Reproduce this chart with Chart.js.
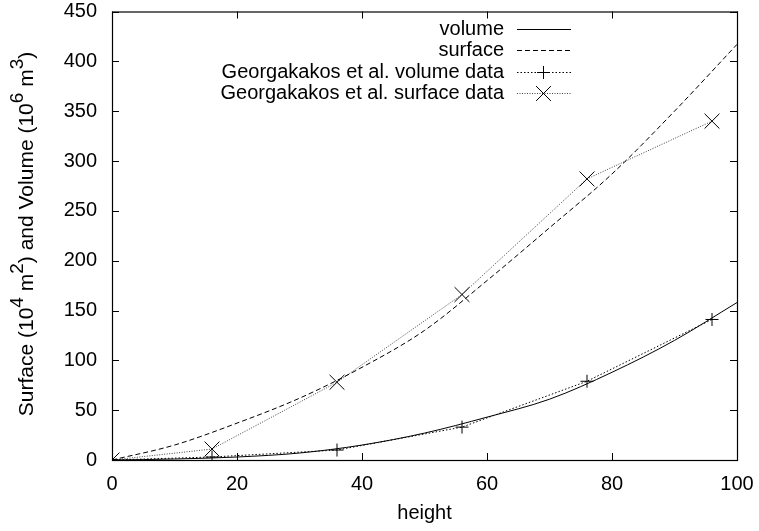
<!DOCTYPE html>
<html>
<head>
<meta charset="utf-8">
<script src="https://cdn.jsdelivr.net/npm/chart.js@4/dist/chart.umd.min.js"></script>
<style>
  html, body { margin: 0; padding: 0; background: #fff; }
  #wrap { width: 759px; height: 531px; }
</style>
</head>
<body>
<div id="wrap"><canvas id="myChart" width="759" height="531"></canvas></div>
<script>
// measured points (Georgakakos et al.)
const heights = [0, 16, 36, 56, 76, 96];
const volumeData = [0, 3, 10, 33, 79, 141];
const surfaceData = [0, 11, 78, 166, 282, 340];

// fitted curves
const curveHeights = [0, 10, 20, 30, 40, 50, 60, 70, 80, 90, 100];
const volumeCurve = [0, 1, 3, 7, 15, 27, 43, 61, 88, 120, 158];
const surfaceCurve = [0, 15, 37, 62, 93, 130, 180, 233, 287, 350, 417];

const xTicks = [0, 20, 40, 60, 80, 100];
const yTicks = [0, 50, 100, 150, 200, 250, 300, 350, 400, 450];

const FONT = "Liberation Sans, Arial, sans-serif";

const toXY = (xs, ys) => xs.map((x, i) => ({ x: x, y: ys[i] }));

const data = {
  datasets: [
    {
      label: "volume",
      data: toXY(curveHeights, volumeCurve),
      borderColor: "#000",
      borderWidth: 1,
      pointRadius: 0,
      cubicInterpolationMode: "monotone",
    },
    {
      label: "surface",
      data: toXY(curveHeights, surfaceCurve),
      borderColor: "#000",
      borderWidth: 1,
      borderDash: [5, 3],
      pointRadius: 0,
      cubicInterpolationMode: "monotone",
    },
    {
      label: "Georgakakos et al. volume data",
      data: toXY(heights, volumeData),
      borderColor: "#000",
      borderWidth: 1,
      borderDash: [1.5, 2],
      pointStyle: "cross",
      pointRadius: 6.5,
      pointBorderColor: "#000",
      pointBorderWidth: 1,
    },
    {
      label: "Georgakakos et al. surface data",
      data: toXY(heights, surfaceData),
      borderColor: "#444",
      borderWidth: 1,
      borderDash: [1, 1.5],
      pointStyle: "crossRot",
      pointRadius: 10.5,
      pointBorderColor: "#000",
      pointBorderWidth: 1,
    },
  ],
};

// frame + inward ticks on all four sides
const frameTicks = {
  id: "frameTicks",
  afterDraw(chart) {
    const { ctx, chartArea: { left, right, top, bottom } } = chart;
    const xs = chart.scales.x;
    const ys = chart.scales.y;
    ctx.save();
    ctx.strokeStyle = "#000";
    ctx.lineWidth = 1;
    ctx.setLineDash([]);
    ctx.beginPath();
    xTicks.forEach((v) => {
      const px = Math.round(xs.getPixelForValue(v)) + 0.5;
      ctx.moveTo(px, bottom);
      ctx.lineTo(px, bottom - 7);
      ctx.moveTo(px, top);
      ctx.lineTo(px, top + 7);
    });
    yTicks.forEach((v) => {
      const py = Math.round(ys.getPixelForValue(v)) + 0.5;
      ctx.moveTo(left, py);
      ctx.lineTo(left + 7, py);
      ctx.moveTo(right, py);
      ctx.lineTo(right - 7, py);
    });
    ctx.stroke();
    ctx.lineWidth = 1.2;
    ctx.strokeRect(left + 0.5, top + 0.5, right - left, bottom - top);
    ctx.restore();
  },
};

// y axis title with superscripts
const yTitle = {
  id: "yTitle",
  afterDraw(chart) {
    const { ctx } = chart;
    const parts = [
      ["Surface (10", false], ["4", true], [" m", false], ["2", true],
      [") and Volume (10", false], ["6", true], [" m", false], ["3", true], [")", false],
    ];
    const mainFont = "21px " + FONT;
    const supFont = "19px " + FONT;
    ctx.save();
    let total = 0;
    parts.forEach(([t, sup]) => {
      ctx.font = sup ? supFont : mainFont;
      total += ctx.measureText(t).width;
    });
    ctx.translate(33, 234);
    ctx.rotate(-Math.PI / 2);
    ctx.fillStyle = "#000";
    ctx.textBaseline = "alphabetic";
    ctx.textAlign = "left";
    let x = -total / 2;
    parts.forEach(([t, sup]) => {
      ctx.font = sup ? supFont : mainFont;
      ctx.fillText(t, x, sup ? -10 : 0);
      x += ctx.measureText(t).width;
    });
    ctx.restore();
  },
};

// gnuplot style key: text right-aligned, sample to the right
const keyBox = {
  id: "keyBox",
  afterDraw(chart) {
    const { ctx } = chart;
    const rows = [28.5, 50, 71.5, 93];
    ctx.save();
    chart.data.datasets.forEach((ds, i) => {
      const y = Math.round(rows[i]) + 0.5;
      ctx.font = "20px " + FONT;
      ctx.fillStyle = "#000";
      ctx.textAlign = "right";
      ctx.textBaseline = "middle";
      ctx.fillText(ds.label, 504, y);
      ctx.strokeStyle = ds.borderColor;
      ctx.lineWidth = ds.borderWidth;
      ctx.setLineDash(ds.borderDash || []);
      ctx.beginPath();
      ctx.moveTo(517, y);
      ctx.lineTo(571, y);
      ctx.stroke();
      ctx.setLineDash([]);
      if (ds.pointRadius > 0) {
        ctx.strokeStyle = "#000";
        ctx.lineWidth = 1;
        Chart.helpers.drawPoint(ctx, {
          pointStyle: ds.pointStyle,
          radius: ds.pointRadius,
          borderWidth: 1,
          rotation: 0,
        }, 543.5, y);
      }
    });
    ctx.restore();
  },
};

const xTitle = {
  id: "xTitle",
  afterDraw(chart) {
    const { ctx, chartArea: { left, right } } = chart;
    ctx.save();
    ctx.font = "20px " + FONT;
    ctx.fillStyle = "#000";
    ctx.textAlign = "center";
    ctx.textBaseline = "middle";
    ctx.fillText("height", (left + right) / 2, 513);
    ctx.restore();
  },
};

const config = {
  type: "line",
  data: data,
  options: {
    responsive: false,
    animation: false,
    devicePixelRatio: 1,
    layout: { padding: { top: 11, right: 22, left: 0, bottom: 0 } },
    plugins: {
      legend: { display: false },
      tooltip: { enabled: false },
    },
    scales: {
      x: {
        type: "linear",
        min: 0,
        max: 100,
        afterFit: (s) => {
          s.height = 71;
          s.paddingLeft = 0;
          s.paddingRight = 0;
        },
        afterBuildTicks: (s) => { s.ticks = xTicks.map((v) => ({ value: v })); },
        ticks: {
          color: "#000",
          font: { size: 20, family: FONT },
          padding: 12,
          maxRotation: 0,
        },
        grid: { display: false, drawTicks: false },
        border: { display: false },
      },
      y: {
        min: 0,
        max: 450,
        afterFit: (s) => {
          s.width = 112;
          s.paddingTop = 0;
          s.paddingBottom = 0;
        },
        afterBuildTicks: (s) => { s.ticks = yTicks.map((v) => ({ value: v })); },
        ticks: {
          color: "#000",
          font: { size: 20, family: FONT },
          padding: 15,
        },
        grid: { display: false, drawTicks: false },
        border: { display: false },
      },
    },
  },
  plugins: [frameTicks, yTitle, keyBox, xTitle],
};

const myChart = new Chart(document.getElementById("myChart"), config);
</script>
</body>
</html>
